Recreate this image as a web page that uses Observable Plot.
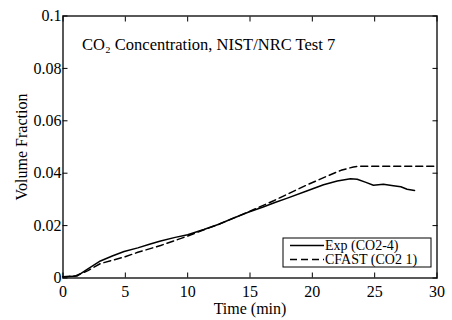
<!DOCTYPE html>
<html><head><meta charset="utf-8">
<script src="https://cdn.jsdelivr.net/npm/d3@7"></script>
<script src="https://cdn.jsdelivr.net/npm/@observablehq/plot@0.6"></script>
<style>body{margin:0;background:#fff}</style>
</head><body><div id="chart"></div>
<script>
const xTicks = [0, 5, 10, 15, 20, 25, 30];
const yTicks = [0, 0.02, 0.04, 0.06, 0.08, 0.1];
const yTickLabels = ["0", "0.02", "0.04", "0.06", "0.08", "0.1"];
const xLabel = "Time (min)";
const yLabel = "Volume Fraction";
const titleText = "CO₂ Concentration, NIST/NRC Test 7";
const legendLabels = ["Exp (CO2-4)", "CFAST (CO2 1)"];

const expTime  = [0, 0.5, 1.15, 2, 3, 4, 4.9, 6, 7, 7.83, 9, 10, 11.3, 12.5, 13.5, 14.9, 16, 17, 18, 19.6, 20.9, 22, 23.06, 23.6, 24.3, 24.9, 25.7, 26.5, 27.1, 27.6, 28.2];
const expValue = [0.0005, 0.0006, 0.0008, 0.0035, 0.0065, 0.0085, 0.0101, 0.0115, 0.013, 0.0141, 0.0155, 0.0165, 0.0185, 0.0205, 0.0225, 0.0252, 0.027, 0.0288, 0.0305, 0.0333, 0.0356, 0.037, 0.0379, 0.0377, 0.0365, 0.0354, 0.0358, 0.0352, 0.0348, 0.0339, 0.0334];

const cfastTime  = [0, 1, 2, 3, 4, 4.9, 6, 7.83, 10, 11.3, 12.5, 14, 15, 16.9, 18, 19.6, 21, 22.3, 23.3, 24, 30];
const cfastValue = [0.0005, 0.0008, 0.0028, 0.0055, 0.0068, 0.008, 0.0098, 0.0124, 0.016, 0.0184, 0.0205, 0.0235, 0.0255, 0.0295, 0.032, 0.0356, 0.0385, 0.0411, 0.0424, 0.0427, 0.0427];

const expData = expTime.map((t, i) => ({t, v: expValue[i]}));
const cfastData = cfastTime.map((t, i) => ({t, v: cfastValue[i]}));

const font = "Liberation Serif";

const plot = Plot.plot({
  width: 452, height: 320,
  marginLeft: 62.5, marginRight: 15.5, marginTop: 15.5, marginBottom: 42.5,
  style: {fontFamily: font, fontSize: "16px", background: "#fff", color: "#000", overflow: "visible"},
  x: {domain: [0, 30], ticks: xTicks},
  y: {domain: [0, 0.1], ticks: yTicks},
  marks: [
    Plot.axisX(xTicks, {anchor: "bottom", tickSize: -5, tickPadding: 12.5, label: xLabel, labelAnchor: "center", labelArrow: "none", labelOffset: 36, fontSize: 16, fontFamily: font}),
    Plot.axisX(xTicks, {anchor: "top", tickSize: -5, tickFormat: () => "", label: null}),
    Plot.axisY(yTicks, {anchor: "left", tickSize: -5, tickPadding: 6.5, tickFormat: (d, i) => yTickLabels[i], label: yLabel, labelAnchor: "center", labelArrow: "none", labelOffset: 47, fontSize: 16, fontFamily: font}),
    Plot.axisY(yTicks, {anchor: "right", tickSize: -5, tickFormat: () => "", label: null}),
    Plot.frame({stroke: "black", strokeWidth: 1.3}),
    Plot.line(cfastData, {x: "t", y: "v", stroke: "black", strokeWidth: 1.5, strokeDasharray: "7,4"}),
    Plot.line(expData, {x: "t", y: "v", stroke: "black", strokeWidth: 1.5}),
    Plot.text([titleText], {frameAnchor: "top-left", dx: 19, dy: 22, text: d => d, textAnchor: "start", lineAnchor: "top", fontSize: 16.5, fontFamily: font, fill: "black"})
  ]
});

// Legend box drawn inside the plot area
const svg = d3.select(plot);
const lg = svg.append("g").attr("font-family", font).attr("font-size", 14).attr("text-anchor", "start");
lg.append("rect").attr("x", 283).attr("y", 238).attr("width", 148).attr("height", 29)
  .attr("fill", "white").attr("stroke", "black").attr("stroke-width", 1);
const rows = [{y: 245.5, dash: null}, {y: 259.5, dash: "7,4"}];
rows.forEach((r, i) => {
  const ln = lg.append("line").attr("x1", 290).attr("x2", 324).attr("y1", r.y).attr("y2", r.y)
    .attr("stroke", "black").attr("stroke-width", 1.5);
  if (r.dash) ln.attr("stroke-dasharray", r.dash);
  lg.append("text").attr("x", 325).attr("y", r.y).attr("dy", "0.35em").attr("fill", "black").text(legendLabels[i]);
});

document.getElementById("chart").appendChild(plot);
</script>
</body></html>
